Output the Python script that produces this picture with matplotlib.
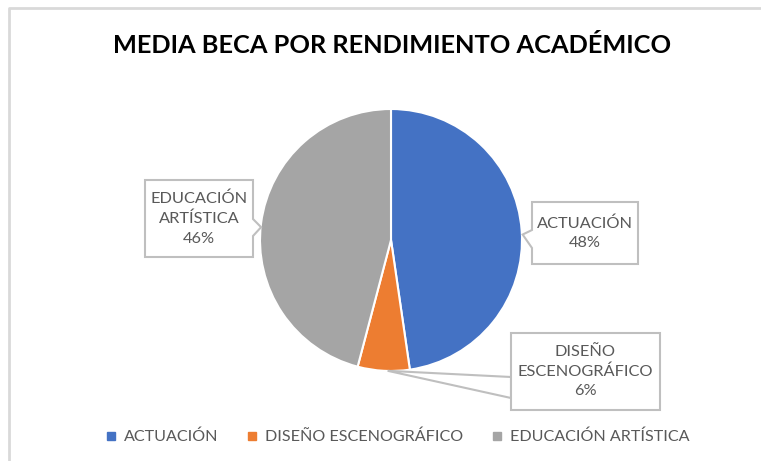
import numpy as np
import matplotlib
matplotlib.use("Agg")
import matplotlib.pyplot as plt
from matplotlib.patches import Polygon

categories = ["ACTUACIÓN", "DISEÑO ESCENOGRÁFICO", "EDUCACIÓN ARTÍSTICA"]
label_lines = ["ACTUACIÓN", "DISEÑO\nESCENOGRÁFICO", "EDUCACIÓN\nARTÍSTICA"]
values = [47.7, 6.4, 45.9]
colors = ["#4472C4", "#ED7D31", "#A5A5A5"]
title = "MEDIA BECA POR RENDIMIENTO ACADÉMICO"

W, H = 761, 461
plt.rcParams['font.family'] = ['Lato', 'DejaVu Sans']
fig = plt.figure(figsize=(W / 100, H / 100), dpi=100)
ax = fig.add_axes([0, 0, 1, 1])
ax.set_xlim(0, W)
ax.set_ylim(0, H)
ax.set_aspect('equal')
ax.axis('off')

def Y(y):
    return H - y

# chart border (top and left visible)
ax.plot([9, 9, W + 5], [Y(H + 5), Y(8), Y(8)], color="#D9D9D9", lw=2, solid_capstyle='butt')

cx, cy, r = 391, 240, 131
wedges, _ = ax.pie(values, colors=colors, startangle=90, counterclock=False,
                   center=(cx, Y(cy)), radius=r, frame=True,
                   wedgeprops=dict(edgecolor='white', linewidth=1.5))
ax.set_xlim(0, W)
ax.set_ylim(0, H)
ax.axis('off')

ax.text(392, Y(45), title, ha='center', va='center', fontsize=18.3, fontweight='bold', color='black')

total = sum(values)
pcts = [f"{v / total * 100:.0f}%" for v in values]

def tip_point(w):
    ang = np.deg2rad((w.theta1 + w.theta2) / 2)
    return cx + r * np.cos(ang), Y(cy) + r * np.sin(ang)

box_col = "#BFBFBF"
txt_col = "#595959"

def callout(poly_pts):
    ax.add_patch(Polygon([(x, Y(y)) for x, y in poly_pts], closed=True,
                         facecolor='white', edgecolor=box_col, lw=1.5, zorder=5))

# ACTUACIÓN box (right)
tx, ty = tip_point(wedges[0]); ty_img = H - ty
x0, y0, x1, y1 = 532, 202, 638, 264
callout([(x0, y0), (x1, y0), (x1, y1), (x0, y1), (x0, 248), (tx + 1, ty_img + 4), (x0, 230)])
ax.text((x0 + x1) / 2, Y((y0 + y1) / 2), f"{label_lines[0]}\n{pcts[0]}", ha='center', va='center',
        fontsize=11.8, color=txt_col, linespacing=1.5, zorder=6)

# EDUCACIÓN box (left)
tx, ty = tip_point(wedges[2]); ty_img = H - ty
x0, y0, x1, y1 = 145, 180, 253, 257
callout([(x0, y0), (x1, y0), (x1, 219), (tx, ty_img + 4), (x1, 236), (x1, y1), (x0, y1)])
ax.text((x0 + x1) / 2, Y((y0 + y1) / 2), f"{label_lines[2]}\n{pcts[2]}", ha='center', va='center',
        fontsize=11.8, color=txt_col, linespacing=1.5, zorder=6)

# DISEÑO box (bottom right) with leader
tx, ty = tip_point(wedges[1]); ty_img = H - ty
x0, y0, x1, y1 = 511, 333, 660, 410
ax.add_patch(Polygon([(tx + 4, ty), (x0, Y(377)), (x0, Y(398))], closed=True,
                     facecolor='white', edgecolor=box_col, lw=1.5, zorder=4))
callout([(x0, y0), (x1, y0), (x1, y1), (x0, y1)])
ax.text((x0 + x1) / 2, Y((y0 + y1) / 2), f"{label_lines[1]}\n{pcts[1]}", ha='center', va='center',
        fontsize=11.8, color=txt_col, linespacing=1.5, zorder=6)

# legend
handles = [plt.Line2D([], [], marker='s', ls='', color=c, markersize=5.5) for c in colors]
leg = fig.legend(handles, categories, loc='center', bbox_to_anchor=(397 / W, 1 - 437 / H),
                 ncol=3, frameon=False, fontsize=11.6, handlelength=0.7, handletextpad=0.45,
                 columnspacing=1.75, labelcolor=txt_col)

fig.savefig("out.png", dpi=100, facecolor='white')
